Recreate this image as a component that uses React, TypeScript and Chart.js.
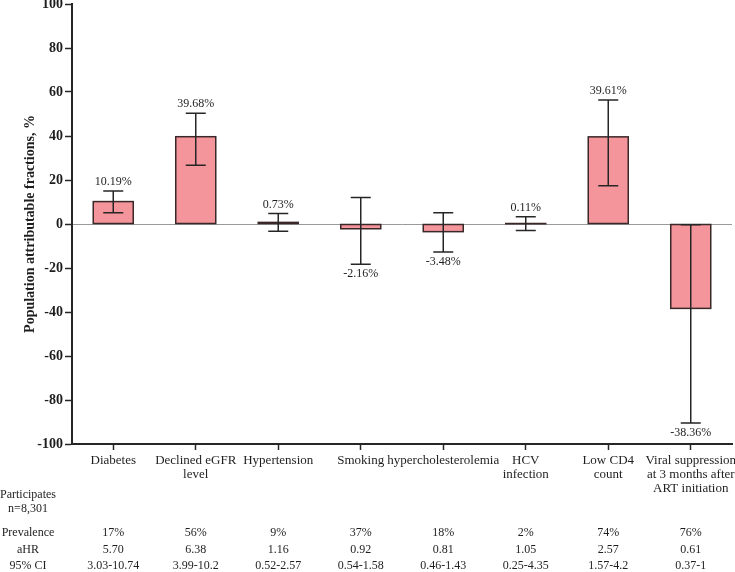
import React, { useEffect, useRef } from "react";
import { Chart, registerables } from "chart.js";

Chart.register(...registerables);

const categories: string[][] = [
  ["Diabetes"],
  ["Declined eGFR", "level"],
  ["Hypertension"],
  ["Smoking"],
  ["hypercholesterolemia"],
  ["HCV", "infection"],
  ["Low CD4", "count"],
  ["Viral suppression", "at 3 months after", "ART initiation"],
];
const pafValues = [10.19, 39.68, 0.73, -2.16, -3.48, 0.11, 39.61, -38.36];
const ciLower = [5.1, 26.7, -3.3, -18.3, -12.7, -3.0, 17.4, -90.5];
const ciUpper = [15.0, 50.3, 4.8, 12.0, 5.1, 3.3, 56.4, -0.3];
const valueLabels = ["10.19%", "39.68%", "0.73%", "-2.16%", "-3.48%", "0.11%", "39.61%", "-38.36%"];
const prevalence = ["17%", "56%", "9%", "37%", "18%", "2%", "74%", "76%"];
const aHR = ["5.70", "6.38", "1.16", "0.92", "0.81", "1.05", "2.57", "0.61"];
const ci95 = ["3.03-10.74", "3.99-10.2", "0.52-2.57", "0.54-1.58", "0.46-1.43", "0.25-4.35", "1.57-4.2", "0.37-1"];
const yTitle = "Population attributable fractions, %";
const rowLabels = ["Prevalence", "aHR", "95% CI"];
const participantsLabel = ["Participates", "n=8,301"];

const SERIF = "'Liberation Serif', 'Times New Roman', serif";
const INK = "#1e1e1e";
const OFFSET = 20; // canvas shifted up by this amount

const overlayPlugin = {
  id: "overlay",
  afterDatasetsDraw(chart: any) {
    const ctx = chart.ctx;
    const x = chart.scales.x;
    const y = chart.scales.y;
    ctx.save();
    // bar outlines
    ctx.strokeStyle = "#3a2828";
    ctx.lineWidth = 1.5;
    const meta = chart.getDatasetMeta(0);
    meta.data.forEach((el: any) => {
      const top = Math.min(el.y, el.base);
      const h = Math.abs(el.base - el.y);
      ctx.strokeRect(el.x - el.width / 2, top, el.width, h);
    });
    // error bars
    ctx.strokeStyle = "#262626";
    ctx.lineWidth = 1.5;
    for (let i = 0; i < pafValues.length; i++) {
      const cx = x.getPixelForValue(i);
      const yt = y.getPixelForValue(ciUpper[i]);
      const yb = y.getPixelForValue(ciLower[i]);
      ctx.beginPath();
      ctx.moveTo(cx, yt);
      ctx.lineTo(cx, yb);
      ctx.moveTo(cx - 10, yt);
      ctx.lineTo(cx + 10, yt);
      ctx.moveTo(cx - 10, yb);
      ctx.lineTo(cx + 10, yb);
      ctx.stroke();
    }
    // value labels
    ctx.fillStyle = INK;
    ctx.font = `12px ${SERIF}`;
    ctx.textAlign = "center";
    ctx.textBaseline = "middle";
    for (let i = 0; i < pafValues.length; i++) {
      const cx = x.getPixelForValue(i);
      if (pafValues[i] >= 0) {
        ctx.fillText(valueLabels[i], cx, y.getPixelForValue(ciUpper[i]) - 9);
      } else {
        ctx.fillText(valueLabels[i], cx, y.getPixelForValue(ciLower[i]) + 10);
      }
    }
    // y title
    ctx.font = `bold 14px ${SERIF}`;
    ctx.save();
    ctx.translate(30, (chart.chartArea.top + chart.chartArea.bottom) / 2);
    ctx.rotate(-Math.PI / 2);
    ctx.fillText(yTitle, 0, 0);
    ctx.restore();
    // table
    ctx.font = `12px ${SERIF}`;
    const leftX = 28;
    ctx.fillText(participantsLabel[0], leftX, 495 + OFFSET);
    ctx.fillText(participantsLabel[1], leftX, 509 + OFFSET);
    const rowsY = [533, 550, 566];
    const rows = [prevalence, aHR, ci95];
    rows.forEach((row, r) => {
      const yy = rowsY[r] + OFFSET;
      ctx.fillText(rowLabels[r], leftX, yy);
      row.forEach((v, i) => ctx.fillText(v, x.getPixelForValue(i), yy));
    });
    ctx.restore();
  },
};

export default function App() {
  const ref = useRef<HTMLCanvasElement>(null);
  useEffect(() => {
    if (!ref.current) return;
    const chart = new Chart(ref.current, {
      type: "bar",
      data: {
        labels: categories,
        datasets: [
          {
            data: pafValues,
            backgroundColor: "#F4959C",
            borderWidth: 0,
            categoryPercentage: 1,
            barPercentage: 0.485,
          },
        ],
      },
      options: {
        responsive: false,
        animation: false,
        devicePixelRatio: 1,
        layout: { padding: { top: 24, right: 3, left: 0, bottom: 0 } },
        plugins: { legend: { display: false }, tooltip: { enabled: false } },
        scales: {
          x: {
            offset: true,
            afterFit(scale: any) {
              scale.height = 128;
              scale.paddingLeft = 0;
              scale.paddingRight = 0;
            },
            grid: {
              display: true,
              drawOnChartArea: false,
              offset: false,
              tickLength: 6,
              tickColor: "#262626",
              tickWidth: 1.5,
            },
            border: { display: true, color: "#262626", width: 2 },
            ticks: {
              font: { family: SERIF, size: 13, lineHeight: 1.1 },
              color: INK,
              maxRotation: 0,
              autoSkip: false,
              padding: 3,
            },
          },
          y: {
            min: -100,
            max: 100,
            afterFit(scale: any) {
              scale.width = 72;
              scale.paddingTop = 0;
              scale.paddingBottom = 0;
            },
            grid: {
              color: (c: any) => (c.tick && c.tick.value === 0 ? "#9a9a9a" : "rgba(0,0,0,0)"),
              lineWidth: 1,
              tickLength: 7,
              tickColor: "#262626",
              tickWidth: 1.5,
            },
            border: { display: true, color: "#262626", width: 2 },
            ticks: {
              stepSize: 20,
              font: { family: SERIF, size: 14, weight: "bold" },
              color: INK,
              padding: 2,
            },
          },
        },
      },
      plugins: [overlayPlugin],
    } as any);
    return () => chart.destroy();
  }, []);
  return (
    <div style={{ position: "fixed", left: 0, top: -OFFSET, width: 735, height: 572 + OFFSET, background: "#fff" }}>
      <canvas ref={ref} width={735} height={572 + OFFSET} style={{ display: "block" }} />
    </div>
  );
}
